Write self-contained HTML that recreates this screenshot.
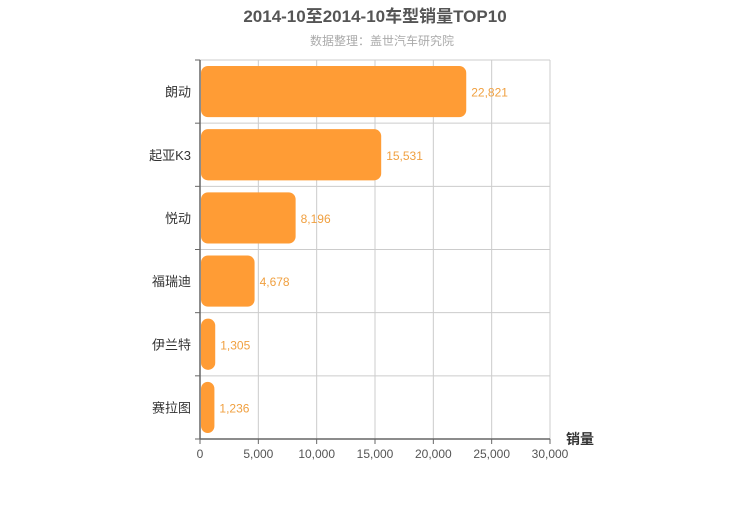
<!DOCTYPE html>
<html><head><meta charset="utf-8"><style>
body{margin:0;background:#fff;}
svg{font-family:"Liberation Sans","Noto Sans CJK SC",sans-serif;}
</style></head><body>
<svg id="chart" width="750" height="500">
<text x="375" y="22" text-anchor="middle" font-size="17" font-weight="bold" fill="#555">2014-10至2014-10车型销量TOP10</text>
<text x="382" y="45" text-anchor="middle" font-size="12" fill="#aaa">数据整理：盖世汽车研究院</text>
<g id="grid"></g><g id="bars"></g><g id="axes"></g>
<text x="566" y="444" font-size="14" font-weight="bold" fill="#333">销量</text>
</svg>
<script>
const categories=["朗动","起亚K3","悦动","福瑞迪","伊兰特","赛拉图"];
const values=[22821,15531,8196,4678,1305,1236];
const ticks=[0,5000,10000,15000,20000,25000,30000];
const X0=200,X1=550,Y0=60,Y1=439,MAX=30000;
const ns="http://www.w3.org/2000/svg";
const xs=v=>X0+(X1-X0)*v/MAX;
const band=(Y1-Y0)/categories.length;
function mk(t,a,p){const e=document.createElementNS(ns,t);for(const k in a)e.setAttribute(k,a[k]);p.appendChild(e);return e;}
const grid=document.getElementById('grid'),bars=document.getElementById('bars'),axes=document.getElementById('axes');
ticks.forEach(t=>{
 const l=mk('line',{x1:xs(t),x2:xs(t),y1:Y0,y2:Y1,stroke:'#ccc'},grid);
 
 
 const tx=mk('text',{x:xs(t),y:Y1+19,'text-anchor':'middle','font-size':12,fill:'#555'},axes);
 tx.textContent=t.toLocaleString('en-US');
 
 
 mk('line',{x1:xs(t),x2:xs(t),y1:Y1,y2:Y1+5,stroke:'#666'},axes);
});
mk('line',{x1:X0,x2:X1,y1:Y0,y2:Y0,stroke:'#ccc'},grid);
for(let i=0;i<=categories.length;i++){
 const y=Y0+band*i;
 mk('line',{x1:X0,x2:X1,y1:y,y2:y,stroke:'#ccc'},grid);
 mk('line',{x1:X0-5,x2:X0,y1:y,y2:y,stroke:'#666'},axes);
}
mk('line',{x1:X0,x2:X0,y1:Y0,y2:Y1,stroke:'#666','stroke-width':1.5},axes);
mk('line',{x1:X0,x2:X1,y1:Y1,y2:Y1,stroke:'#666','stroke-width':1.5},axes);
categories.forEach((c,i)=>{
 const y=Y0+band*i;
 const r=mk('rect',{x:X0+1,y:y+6,width:Math.max(xs(values[i])-X0-1,2),height:band-12,rx:7,fill:'#ff9c35'},bars);
 
 
 const v=mk('text',{x:xs(values[i])+5,y:y+band/2+5,'font-size':12,fill:'#f0a040'},bars);
 v.textContent=values[i].toLocaleString('en-US');
 
 
 const l=mk('text',{x:X0-9,y:y+band/2+5,'text-anchor':'end','font-size':13,fill:'#333'},axes);
 l.textContent=c;
 
 
});
</script>
</body></html>
